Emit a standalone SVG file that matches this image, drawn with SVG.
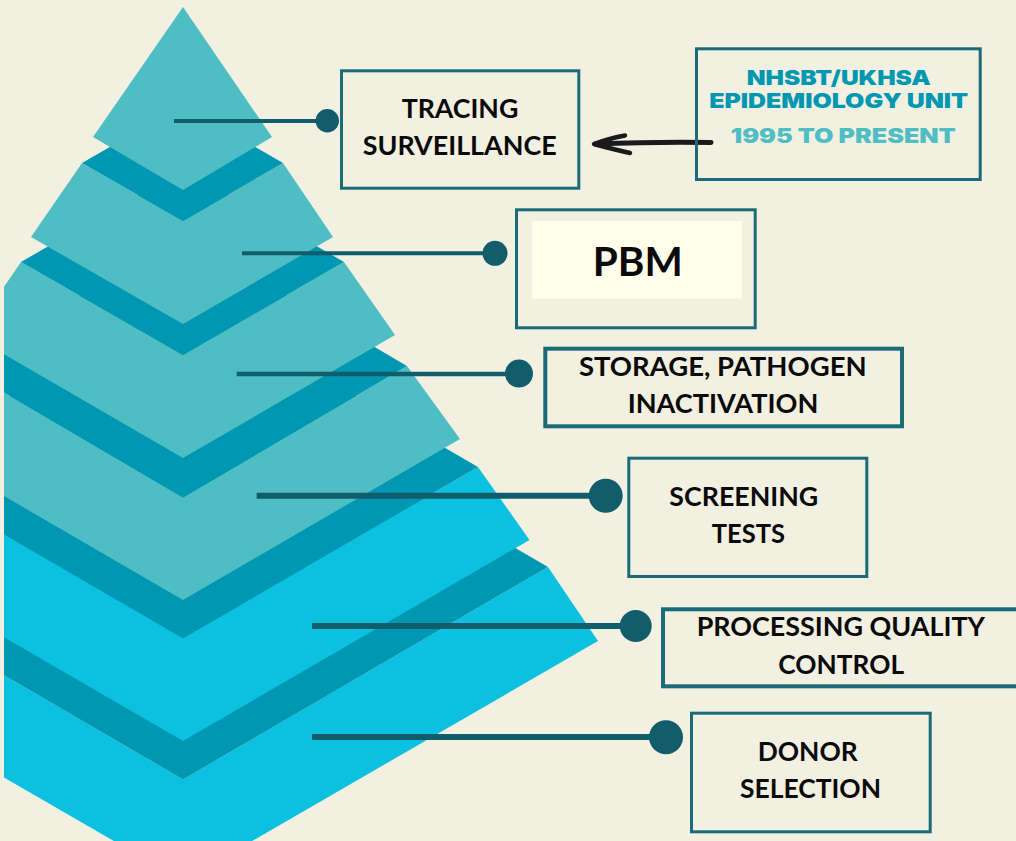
<svg xmlns="http://www.w3.org/2000/svg" width="1016" height="841" viewBox="0 0 1016 841">
  <style>
    .lt { fill: #4EBEC4; }
    .cy { fill: #0CC0DF; }
    .dk { fill: #0097B2; }
    .box { fill: none; stroke: #1B6A77; stroke-width: 3; }
    .conn { stroke: #115D6B; fill: none; }
    .dot { fill: #115D6B; }
    .lbl { font-family: Lato, "Open Sans", "Liberation Sans", sans-serif; font-weight: 700; font-size: 27px; fill: #0A0A0A; text-anchor: middle; }
    .hd { font-family: Inter, "Liberation Sans", sans-serif; font-weight: 900; font-size: 20px; text-anchor: middle; }
  </style>
  <defs>
    <clipPath id="clipPyr">
      <rect x="4" y="0" width="1012" height="841"/>
    </clipPath>
  </defs>
  <rect x="0" y="0" width="1016" height="841" fill="#F2F0E1"/>

  <g id="pyramid" clip-path="url(#clipPyr)">
    <polygon class="cy" points="-182,567 183,779.5 548,567 598,641 183,881 -232,641"/>
    <polygon class="dk" points="-182,567 183,355 548,567 183,779.5"/>
    <polygon class="cy" points="-112,467 183,638.3 478,467 529.5,540 183,741 -163.5,540"/>
    <polygon class="dk" points="-112,467 183,295.7 478,467 183,638.3"/>
    <polygon class="lt" points="-41,366 183,497.5 407,366 460,439 183,600 -94,439"/>
    <polygon class="dk" points="-41,366 183,234.5 407,366 183,497.5"/>
    <polygon class="lt" points="21,262 183,355 344,262 395,335 183,458 -29,335"/>
    <polygon class="dk" points="21,262 183,168.5 344,262 183,355"/>
    <polygon class="lt" points="82,163 183,221 283,163 333,237 183,324 31,237"/>
    <polygon class="dk" points="82,163 183,105 283,163 183,221"/>
    <polygon class="lt" points="183,7 272,137 183,190 93,137"/>
  </g>

  <g id="connectors">
    <line class="conn" x1="174" y1="121" x2="327" y2="121" stroke-width="4"/>
    <circle class="dot" cx="327.3" cy="120.8" r="11.7"/>
    <line class="conn" x1="242" y1="253.3" x2="495" y2="253.3" stroke-width="4"/>
    <circle class="dot" cx="495" cy="253.3" r="12.5"/>
    <line class="conn" x1="236.7" y1="374" x2="519" y2="374" stroke-width="4.5"/>
    <circle class="dot" cx="519" cy="373.6" r="14"/>
    <line class="conn" x1="256.7" y1="495.7" x2="605.7" y2="495.7" stroke-width="6"/>
    <circle class="dot" cx="605.7" cy="495.7" r="17"/>
    <line class="conn" x1="312" y1="626" x2="635.7" y2="626" stroke-width="6"/>
    <circle class="dot" cx="635.7" cy="626" r="16"/>
    <line class="conn" x1="312" y1="737" x2="666" y2="737" stroke-width="6"/>
    <circle class="dot" cx="666" cy="737.3" r="17"/>
    <g id="arrow" fill="none" stroke="#1A1A1A" stroke-linecap="round" stroke-linejoin="round">
      <path d="M 711 142.5 Q 660 141.5 595 144" stroke-width="5"/>
      <path d="M 625 135.5 Q 607 139 594 144 Q 610 148.5 630 153" stroke-width="4.5"/>
    </g>
  </g>

  <g id="node-tracing">
    <rect class="box" x="341.5" y="70.8" width="237.3" height="117.4"/>
    <text class="lbl" x="460" y="118.3" textLength="116.7" lengthAdjust="spacingAndGlyphs">TRACING</text>
    <text class="lbl" x="459.7" y="155" textLength="194" lengthAdjust="spacingAndGlyphs">SURVEILLANCE</text>
  </g>

  <g id="node-nhsbt">
    <rect class="box" x="696.5" y="48.8" width="283.7" height="130.7"/>
    <text class="hd" x="838.7" y="84.5" fill="#0097B2" textLength="184" lengthAdjust="spacingAndGlyphs">NHSBT/UKHSA</text>
    <text class="hd" x="838.7" y="108.3" fill="#0097B2" textLength="259" lengthAdjust="spacingAndGlyphs">EPIDEMIOLOGY UNIT</text>
    <text class="hd" x="843.3" y="142.7" fill="#4EBEC4" textLength="225" lengthAdjust="spacingAndGlyphs">1995 TO PRESENT</text>
  </g>

  <g id="node-pbm">
    <rect class="box" x="516.5" y="209.8" width="238.7" height="118"/>
    <rect x="532" y="221" width="210" height="77.7" fill="#FEFEEA"/>
    <text class="lbl" x="637.7" y="275.7" textLength="90" lengthAdjust="spacingAndGlyphs" style="font-size:40px">PBM</text>
  </g>

  <g id="node-storage">
    <rect class="box" x="545.3" y="348.7" width="356.7" height="77.6" style="stroke-width:4"/>
    <text class="lbl" x="722.8" y="376" textLength="287.7" lengthAdjust="spacingAndGlyphs">STORAGE, PATHOGEN</text>
    <text class="lbl" x="723" y="413.3" textLength="190.7" lengthAdjust="spacingAndGlyphs">INACTIVATION</text>
  </g>

  <g id="node-screening">
    <rect class="box" x="628.8" y="458.2" width="238" height="118.3"/>
    <text class="lbl" x="743.8" y="505.7" textLength="149" lengthAdjust="spacingAndGlyphs">SCREENING</text>
    <text class="lbl" x="748.3" y="543.3" textLength="73.3" lengthAdjust="spacingAndGlyphs">TESTS</text>
  </g>

  <g id="node-processing">
    <rect class="box" x="663" y="609.3" width="400" height="77" style="stroke-width:4"/>
    <text class="lbl" x="840.8" y="635.7" textLength="288.3" lengthAdjust="spacingAndGlyphs">PROCESSING QUALITY</text>
    <text class="lbl" x="841.2" y="674" textLength="125.7" lengthAdjust="spacingAndGlyphs">CONTROL</text>
  </g>

  <g id="node-donor">
    <rect class="box" x="691.5" y="713.2" width="238.7" height="118.6"/>
    <text class="lbl" x="807.7" y="761" textLength="100" lengthAdjust="spacingAndGlyphs">DONOR</text>
    <text class="lbl" x="810.5" y="798.3" textLength="141" lengthAdjust="spacingAndGlyphs">SELECTION</text>
  </g>
</svg>
